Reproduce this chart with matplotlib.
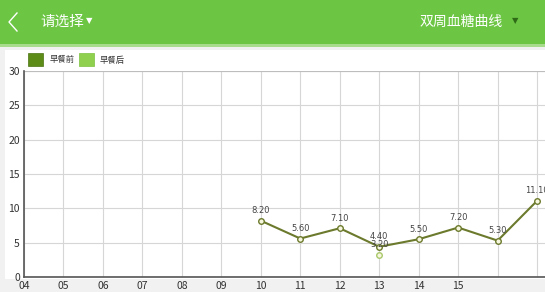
import matplotlib.pyplot as plt
from matplotlib.patches import Rectangle
from matplotlib.lines import Line2D
import numpy as np

plt.rcParams['font.family'] = ['Noto Sans CJK SC', 'DejaVu Sans']

# data
days = [4, 5, 6, 7, 8, 9, 10, 11, 12, 13, 14, 15, 16, 17]
day_labels = ['04', '05', '06', '07', '08', '09', '10', '11', '12', '13', '14', '15', '', '']
before_days = [10, 11, 12, 13, 14, 15, 16, 17]
before_vals = [8.20, 5.60, 7.10, 4.40, 5.50, 7.20, 5.30, 11.10]
after_days = [13]
after_vals = [3.20]
y_ticks = [0, 5, 10, 15, 20, 25, 30]

fig = plt.figure(figsize=(5.45, 2.92), dpi=100)
fig.patch.set_facecolor('#f1f1f1')

def fig_rect(x, y, w, h, **kw):
    # rectangle in pixels from top-left
    r = Rectangle((x / 545, 1 - (y + h) / 292), w / 545, h / 292,
                  transform=fig.transFigure, **kw)
    fig.add_artist(r)
    return r

# header bar
fig_rect(0, 0, 545, 44, facecolor='#6cc644', edgecolor='none', zorder=-2)
fig_rect(0, 44, 545, 3, facecolor='#a8dc8c', edgecolor='none', zorder=-2)
# white chart card
fig_rect(5, 50, 540, 229, facecolor='white', edgecolor='none', zorder=-2)

# back chevron
fig.add_artist(Line2D([17 / 545, 9 / 545, 17 / 545], [1 - 13 / 292, 1 - 22 / 292, 1 - 31 / 292],
                      transform=fig.transFigure, color='white', lw=1.0))
fig.text(40 / 545, 1 - 22 / 292, '请选择', color='white', fontsize=10.5, va='center')
fig.text(86 / 545, 1 - 21 / 292, '▼', color='white', fontsize=6, va='center', family='DejaVu Sans')
fig.text(503 / 545, 1 - 22 / 292, '双周血糖曲线', color='white', fontsize=10, va='center', ha='right')
fig.text(512 / 545, 1 - 21 / 292, '▼', color='#2f6a17', fontsize=6, va='center', family='DejaVu Sans')

# legend
fig_rect(28, 53, 15, 13, facecolor='#5d8c19', edgecolor='#4a7412', lw=0.5, zorder=2)
fig.text(50 / 545, 1 - 60 / 292, '早餐前', fontsize=6, va='center', color='#333333')
fig_rect(79, 53, 15, 13, facecolor='#8fd14f', edgecolor='#7cc040', lw=0.5, zorder=2)
fig.text(100 / 545, 1 - 60 / 292, '早餐后', fontsize=6, va='center', color='#333333')

ax = fig.add_axes([24 / 545, 15 / 292, 521 / 545, 206 / 292])
ax.set_facecolor('white')
ax.set_xlim(4, 17.2)
ax.set_ylim(0, 30)
ax.set_xticks(days)
ax.set_xticklabels(day_labels)
ax.set_yticks(y_ticks)
ax.tick_params(length=0, labelsize=7.5, colors='#333333', pad=3)
ax.grid(True, color='#d6d6d6', lw=0.8)
ax.set_axisbelow(True)
for s in ['top', 'right']:
    ax.spines[s].set_visible(False)
ax.axhline(30, color='#bdbdbd', lw=0.8)
ax.spines['left'].set_color('#555555')
ax.spines['bottom'].set_color('#555555')
ax.spines['left'].set_linewidth(1.2)
ax.spines['bottom'].set_linewidth(1.2)

ax.plot(before_days, before_vals, color='#6b7a2c', lw=1.5, marker='o', markersize=4,
        markerfacecolor='#f7f7e0', markeredgecolor='#6b7a2c', markeredgewidth=1, zorder=3)
ax.plot(after_days, after_vals, color='#a8c86a', lw=1.5, marker='o', markersize=4,
        markerfacecolor='#f7f7e0', markeredgecolor='#a8c86a', markeredgewidth=1, zorder=3)

for x, v in zip(before_days, before_vals):
    ax.annotate('%.2f' % v, (x, v), xytext=(0, 4), textcoords='offset points',
                ha='center', va='bottom', fontsize=6, color='#444444', family='DejaVu Sans')
for x, v in zip(after_days, after_vals):
    ax.annotate('%.2f' % v, (x, v), xytext=(0, 4), textcoords='offset points',
                ha='center', va='bottom', fontsize=6, color='#444444', family='DejaVu Sans')

fig.savefig('out.png', dpi=100, facecolor=fig.get_facecolor())
